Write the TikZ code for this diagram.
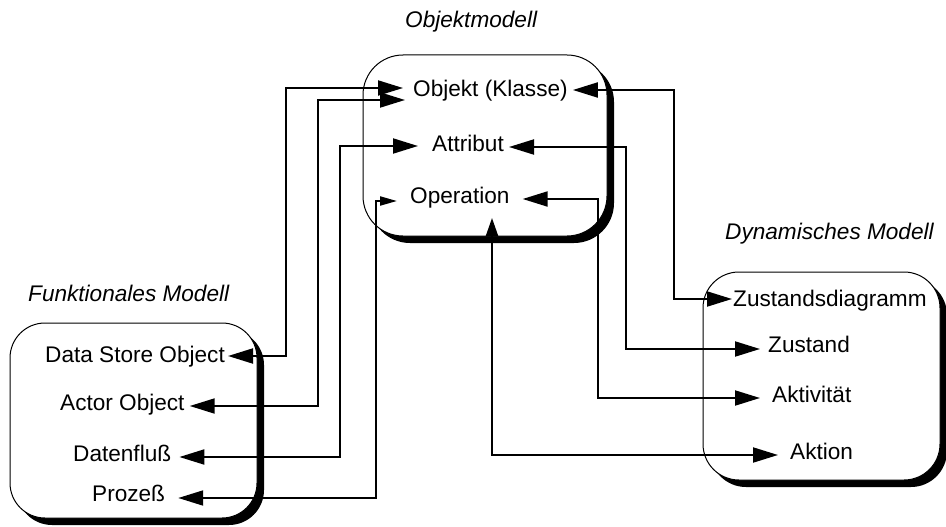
\documentclass[tikz,border=0pt]{standalone}
\usepackage{fontspec}
\setmainfont{Liberation Sans}
\usetikzlibrary{arrows.meta,calc,shadows}
\begin{document}
\begin{tikzpicture}[x=1pt,y=-1pt,
  lbl/.style={anchor=west,inner sep=0pt,font=\fontsize{22.6}{27}\selectfont,text height=0.72em,text depth=0pt},
  ttl/.style={lbl,font=\fontsize{22.6}{27}\selectfont\itshape},
  modbox/.style={draw=black,line width=1pt,fill=white,inner sep=0pt,
    drop shadow={shadow xshift=7pt,shadow yshift=-7pt,opacity=1,fill=black}},
  conn/.style={line width=2pt},
  big/.tip={Triangle[length=25pt,width=15pt]},
  small/.tip={Triangle[length=17pt,width=9pt]},
  up/.tip={Triangle[length=18pt,width=12pt]}]
\useasboundingbox (0,0) rectangle (946,527);
% boxes
\node[modbox,rounded corners=40pt,minimum width=244pt,minimum height=181pt] (objbox) at (485,145.5) {};
\node[modbox,rounded corners=35pt,minimum width=247pt,minimum height=195pt] (funbox) at (133.5,420.5) {};
\node[modbox,rounded corners=36pt,minimum width=237pt,minimum height=208pt] (dynbox) at (821.5,376) {};
% titles
\node[ttl] (tobj) at (405,24) {Objektmodell};
\node[ttl] (tfun) at (28,298) {Funktionales Modell};
\node[ttl] (tdyn) at (725,236) {Dynamisches Modell};
% labels
\node[lbl] (obj) at (413,93) {Objekt (Klasse)};
\node[lbl] (att) at (432,148) {Attribut};
\node[lbl] (ope) at (410,200) {Operation};
\node[lbl] (dso) at (45,359) {Data Store Object};
\node[lbl] (act) at (60,407) {Actor Object};
\node[lbl] (dat) at (73,458) {Datenfluß};
\node[lbl] (pro) at (92,498) {Prozeß};
\node[lbl] (zd) at (733,303) {Zustandsdiagramm};
\node[lbl] (zu) at (768,349) {Zustand};
\node[lbl] (akv) at (772,399) {Aktivität};
\node[lbl] (akn) at (790,456) {Aktion};
% connectors
\draw[conn,big-big] ($(dso.east)+(3,-3)$) -- ++(58,0) |- ($(obj.west)+(-10,-5)$);
\draw[conn,big-big] ($(act.east)+(5,-1)$) -- ++(128,0) |- ($(obj.west)+(-8,7)$);
\draw[conn,big-big] ($(dat.east)+(8,-1)$) -- ++(161,0) |- ($(att.west)+(-14,-2)$);
\draw[conn,big-small] ($(pro.east)+(13,0)$) -- ++(198,0) |- ($(ope.west)+(-13,1)$);
\draw[conn,big-big] ($(obj.east)+(5,-3)$) -- ++(101,0) |- ($(zd.west)+(-1,-4)$);
\draw[conn,big-big] ($(att.east)+(5,-1)$) -- ++(117,0) |- ($(zu.west)+(-8,0)$);
\draw[conn,big-big] ($(ope.east)+(13,-1)$) -- ++(75,0) |- ($(akv.west)+(-12,-1)$);
\draw[conn,up-big] ($(ope.west)+(82,18)$) |- ($(akn.west)+(-12,-1)$);
\end{tikzpicture}
\end{document}
